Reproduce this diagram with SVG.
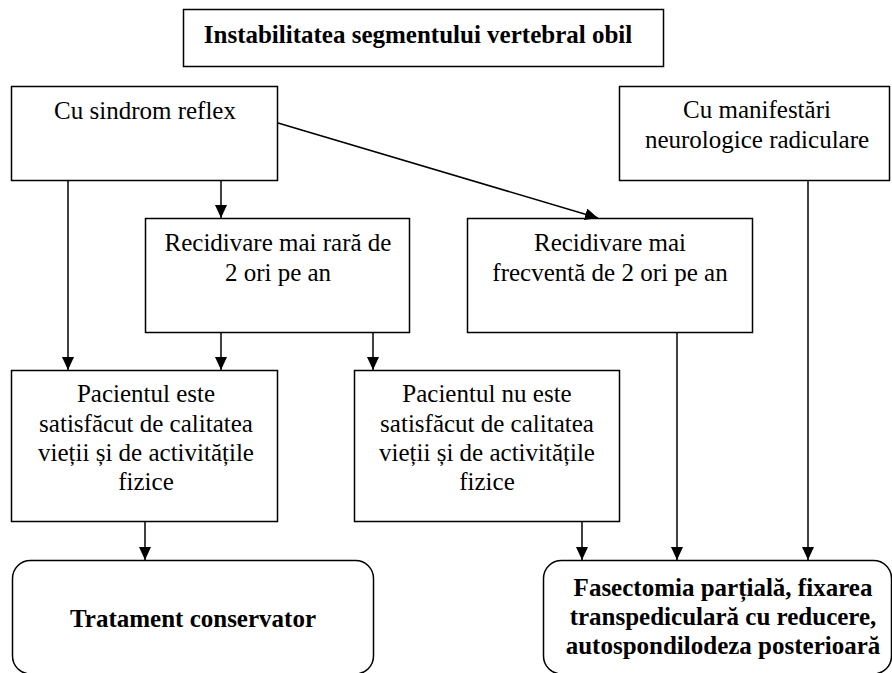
<svg xmlns="http://www.w3.org/2000/svg" width="892" height="673" viewBox="0 0 892 673">
<defs>
<marker id="ah" markerWidth="13" markerHeight="12" refX="13" refY="6" orient="auto" markerUnits="userSpaceOnUse">
<path d="M0,0 L13,6 L0,12 Z" fill="#000"/>
</marker>
<style>
.box{fill:#fff;stroke:#000;stroke-width:1.5}
.t{font-family:"Liberation Serif","Times New Roman",serif;font-size:25px;fill:#000;text-anchor:middle}
.b{font-weight:bold}
.c{stroke:#000;stroke-width:1.5;fill:none;marker-end:url(#ah)}
</style>
</defs>
<rect width="892" height="673" fill="#fff"/>
<g id="title">
<rect class="box" x="183.5" y="9.5" width="480" height="57"/>
<text class="t b" x="418" y="43">Instabilitatea segmentului vertebral obil</text>
</g>
<g id="reflex">
<rect class="box" x="11.5" y="86.5" width="266" height="94"/>
<text class="t" x="145" y="119">Cu sindrom reflex</text>
</g>
<g id="radiculare">
<rect class="box" x="619.5" y="86.5" width="270" height="94"/>
<text class="t" x="757" y="118">Cu manifestări</text>
<text class="t" x="757" y="148">neurologice radiculare</text>
</g>
<g id="rara">
<rect class="box" x="145.5" y="218.5" width="264" height="114"/>
<text class="t" x="278" y="251">Recidivare mai rară de</text>
<text class="t" x="278" y="281">2 ori pe an</text>
</g>
<g id="frecventa">
<rect class="box" x="467.5" y="218.5" width="285" height="114"/>
<text class="t" x="610" y="251">Recidivare mai</text>
<text class="t" x="610" y="281">frecventă de 2 ori pe an</text>
</g>
<g id="satisfacut">
<rect class="box" x="11.5" y="370.5" width="266" height="151"/>
<text class="t" x="146" y="402">Pacientul este</text>
<text class="t" x="146" y="432">satisfăcut de calitatea</text>
<text class="t" x="146" y="461">vieții și de activitățile</text>
<text class="t" x="146" y="490">fizice</text>
</g>
<g id="nesatisfacut">
<rect class="box" x="354.5" y="370.5" width="265" height="151"/>
<text class="t" x="487" y="402">Pacientul nu este</text>
<text class="t" x="487" y="432">satisfăcut de calitatea</text>
<text class="t" x="487" y="461">vieții și de activitățile</text>
<text class="t" x="487" y="490">fizice</text>
</g>
<g id="conservator">
<rect class="box" x="12.5" y="560.5" width="361" height="113.5" rx="18" ry="18"/>
<text class="t b" x="193" y="627">Tratament conservator</text>
</g>
<g id="chirurgical">
<rect class="box" x="543.5" y="560.5" width="348" height="113.5" rx="18" ry="18"/>
<text class="t b" x="723" y="596">Fasectomia parțială, fixarea</text>
<text class="t b" x="723" y="625">transpediculară cu reducere,</text>
<text class="t b" x="723" y="654">autospondilodeza posterioară</text>
</g>
<g id="connectors">
<path class="c" d="M68,180.5 V370"/>
<path class="c" d="M221,180.5 V218"/>
<path class="c" d="M278,123 L598,218"/>
<path class="c" d="M808,180.5 V560"/>
<path class="c" d="M221,332.5 V370"/>
<path class="c" d="M373,332.5 V370"/>
<path class="c" d="M677,332.5 V560"/>
<path class="c" d="M145,521.5 V560"/>
<path class="c" d="M582,521.5 V560"/>
</g>
</svg>
